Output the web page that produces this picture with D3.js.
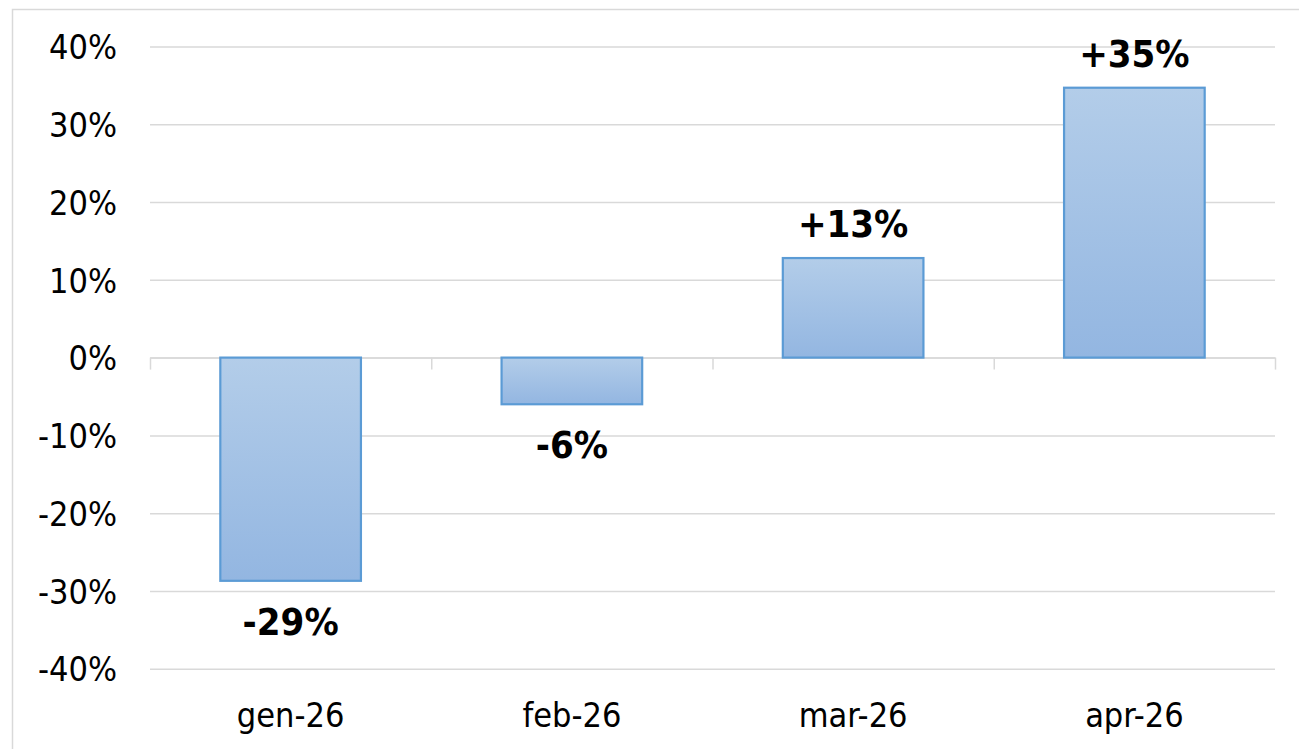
<!DOCTYPE html>
<html>
<head>
<meta charset="utf-8">
<script src="https://cdn.jsdelivr.net/npm/d3@7"></script>
<style>
  html, body { margin: 0; padding: 0; background: #fff; }
  svg { display: block; }
</style>
</head>
<body>
<svg id="chart" width="1299" height="749"></svg>
<script>
const categories = ["gen-26", "feb-26", "mar-26", "apr-26"];
const values = [-28.7, -6.0, 12.8, 34.7];
const yTicks = [-40, -30, -20, -10, 0, 10, 20, 30, 40];

const W = 1299, H = 749;
const plot = { left: 150, right: 1275, top: 46.5, bottom: 668.7 };
const FONT = "'DejaVu Sans Condensed', 'DejaVu Sans', sans-serif";

const svg = d3.select("#chart");
svg.append("rect").attr("width", W).attr("height", H).attr("fill", "#fff");

// outer chart border (extends past the right/bottom edges)
svg.append("rect")
  .attr("x", 12.5).attr("y", 9.5)
  .attr("width", W + 20).attr("height", H + 20)
  .attr("fill", "none").attr("stroke", "#d9d9d9").attr("stroke-width", 1.5);

const y = d3.scaleLinear().domain([-40, 40]).range([plot.bottom, plot.top]);
const x = d3.scaleBand().domain(categories).range([plot.left, plot.right])
  .paddingInner(0.5).paddingOuter(0.25);

// gradient
const defs = svg.append("defs");
const grad = defs.append("linearGradient").attr("id", "barGrad")
  .attr("x1", 0).attr("y1", 0).attr("x2", 0).attr("y2", 1);
grad.append("stop").attr("offset", "0%").attr("stop-color", "#b3cde9");
grad.append("stop").attr("offset", "100%").attr("stop-color", "#93b6e1");

// y axis with gridlines
const yAxis = svg.append("g")
  .attr("transform", `translate(${plot.left},0)`)
  .call(d3.axisLeft(y).tickValues(yTicks)
    .tickSize(-(plot.right - plot.left)).tickPadding(33)
    .tickFormat(d => d + "%"));
yAxis.select(".domain").remove();
yAxis.selectAll(".tick line").attr("stroke", "#d9d9d9").attr("stroke-width", 1.5);
yAxis.selectAll(".tick text")
  .attr("font-family", FONT).attr("font-size", 34).attr("fill", "#000")
  .attr("dy", "0.36em");

// zero axis line with category boundary ticks
const idx = d3.scaleLinear().domain([0, categories.length]).range([plot.left, plot.right]);
const zeroAxis = svg.append("g")
  .attr("transform", `translate(0,${y(0)})`)
  .call(d3.axisBottom(idx).tickValues(d3.range(categories.length + 1))
    .tickSize(12).tickSizeOuter(0).tickFormat(""));
zeroAxis.select(".domain").attr("stroke", "#d9d9d9").attr("stroke-width", 1.5);
zeroAxis.selectAll(".tick line").attr("stroke", "#d9d9d9").attr("stroke-width", 1.5);

// bars
svg.append("g").selectAll("rect").data(values).join("rect")
  .attr("x", (d, i) => x(categories[i]))
  .attr("width", x.bandwidth())
  .attr("y", d => y(Math.max(0, d)))
  .attr("height", d => Math.abs(y(d) - y(0)))
  .attr("fill", "url(#barGrad)")
  .attr("stroke", "#5b9bd5").attr("stroke-width", 2.2);

// value labels
const fmt = d3.format("+.0%");
svg.append("g").selectAll("text").data(values).join("text")
  .attr("x", (d, i) => x(categories[i]) + x.bandwidth() / 2)
  .attr("y", d => d >= 0 ? y(d) - 21 : y(d) + 54)
  .attr("text-anchor", "middle")
  .attr("font-family", FONT).attr("font-size", 38).attr("font-weight", "bold")
  .attr("fill", "#000")
  .text(d => fmt(Math.round(d) / 100).replace("−", "-"));

// category labels
const xAxis = svg.append("g")
  .attr("transform", `translate(0,${plot.bottom})`)
  .call(d3.axisBottom(x).tickSize(0).tickPadding(0));
xAxis.select(".domain").remove();
xAxis.selectAll(".tick text")
  .attr("font-family", FONT).attr("font-size", 34).attr("fill", "#000")
  .attr("y", 58).attr("dy", 0);
</script>
</body>
</html>
